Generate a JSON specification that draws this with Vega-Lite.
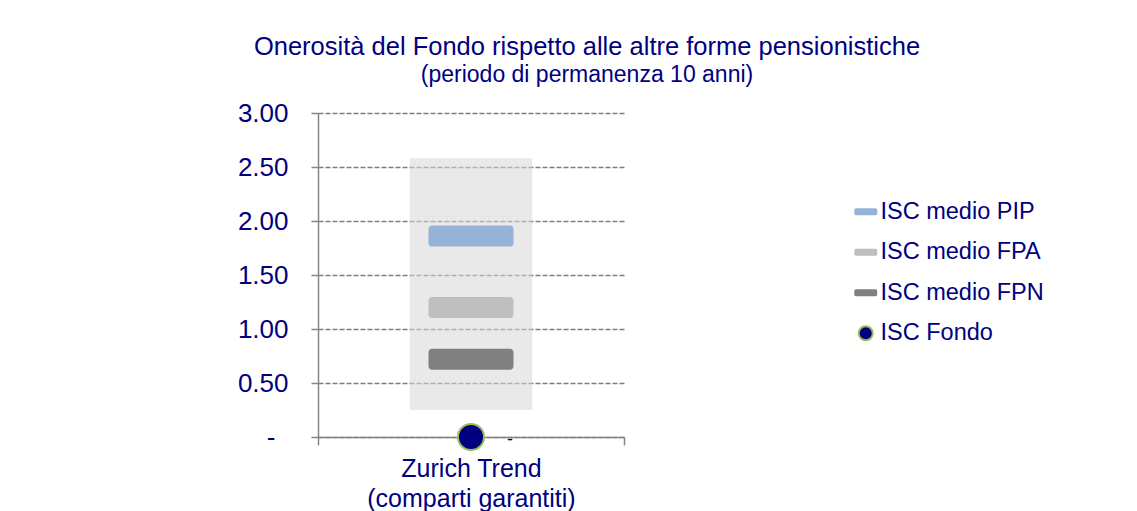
{
  "$schema": "https://vega.github.io/schema/vega-lite/v6.json",
  "width": 306,
  "height": 324,
  "autosize": {"type": "none"},
  "padding": {"left": 318, "top": 113, "right": 513, "bottom": 74},
  "background": "white",
  "title": {
    "text": "Onerosità del Fondo rispetto alle altre forme pensionistiche",
    "subtitle": "(periodo di permanenza 10 anni)",
    "anchor": "middle",
    "frame": "group",
    "dx": 116,
    "offset": 13,
    "font": "Liberation Sans",
    "fontSize": 25.5,
    "fontWeight": "normal",
    "color": "#000080",
    "subtitleFont": "Liberation Sans",
    "subtitleFontSize": 23,
    "subtitleColor": "#000080",
    "subtitlePadding": 4
  },
  "datasets": {
    "range": [
      {"fondo": "Zurich Trend|(comparti garantiti)", "min": 0.25, "max": 2.58}
    ],
    "isc": [
      {"fondo": "Zurich Trend|(comparti garantiti)", "serie": "ISC medio PIP", "valore": 1.86, "etichetta": ""},
      {"fondo": "Zurich Trend|(comparti garantiti)", "serie": "ISC medio FPA", "valore": 1.20, "etichetta": ""},
      {"fondo": "Zurich Trend|(comparti garantiti)", "serie": "ISC medio FPN", "valore": 0.72, "etichetta": ""},
      {"fondo": "Zurich Trend|(comparti garantiti)", "serie": "ISC Fondo", "valore": 0, "etichetta": "-"}
    ]
  },
  "layer": [
    {
      "data": {"name": "range"},
      "mark": {"type": "bar", "color": "#d7d7d7", "opacity": 0.55, "width": {"band": 0.4}},
      "encoding": {
        "x": {
          "field": "fondo",
          "type": "nominal",
          "title": null,
          "scale": {"paddingInner": 0, "paddingOuter": 0},
          "axis": {
            "labelExpr": "split(datum.label, '|')",
            "labelAngle": 0,
            "labelFontSize": 25,
            "labelLineHeight": 30,
            "labelLimit": 500,
            "labelColor": "#000080",
            "labelPadding": 11,
            "tickBand": "extent",
            "tickSize": 8,
            "tickColor": "#868686",
            "tickWidth": 1.5,
            "domainColor": "#868686",
            "domainWidth": 1.5,
            "grid": false
          }
        },
        "y": {
          "field": "min",
          "type": "quantitative",
          "title": null,
          "scale": {"domain": [0, 3], "nice": false},
          "axis": {
            "values": [0, 0.5, 1, 1.5, 2, 2.5, 3],
            "labelExpr": "datum.value == 0 ? '-' : format(datum.value, '.2f')",
            "labelFontSize": 26,
            "labelColor": "#000080",
            "labelPadding": {"condition": {"test": "datum.value == 0", "value": 36}, "value": 23},
            "tickSize": 7,
            "tickColor": "#868686",
            "tickWidth": 1.5,
            "domainColor": "#868686",
            "domainWidth": 1.5,
            "grid": true,
            "gridColor": "#7f7f7f",
            "gridDash": [5, 2],
            "gridWidth": 1.3
          }
        },
        "y2": {"field": "max"}
      }
    },
    {
      "data": {"name": "isc"},
      "transform": [{"filter": "datum.serie != 'ISC Fondo'"}],
      "mark": {"type": "point", "filled": true, "opacity": 1, "strokeWidth": 2, "strokeOpacity": 1, "size": 6889},
      "encoding": {
        "x": {"field": "fondo", "type": "nominal"},
        "y": {"field": "valore", "type": "quantitative"},
        "fill": {
          "field": "serie",
          "type": "nominal",
          "scale": {
            "domain": ["ISC medio PIP", "ISC medio FPA", "ISC medio FPN", "ISC Fondo"],
            "range": ["#95b3d7", "#bfbfbf", "#808080", "#000080"]
          },
          "legend": {
            "orient": "none",
            "legendX": 536,
            "legendY": 87,
            "title": null,
            "labelFont": "Liberation Sans",
            "labelFontSize": 23.5,
            "labelLimit": 300,
            "labelColor": "#000080",
            "labelOffset": 3,
            "symbolSize": 441,
            "symbolStrokeWidth": 2,
            "rowPadding": 15.5
          }
        },
        "stroke": {
          "field": "serie",
          "type": "nominal",
          "scale": {
            "domain": ["ISC medio PIP", "ISC medio FPA", "ISC medio FPN", "ISC Fondo"],
            "range": ["#95b3d7", "#bfbfbf", "#808080", "#9bbb59"]
          }
        },
        "shape": {
          "field": "serie",
          "type": "nominal",
          "scale": {
            "domain": ["ISC medio PIP", "ISC medio FPA", "ISC medio FPN", "ISC Fondo"],
            "range": [
              "M-0.93,-0.229H0.93A0.07,0.07,0,0,1,1,-0.159V0.159A0.07,0.07,0,0,1,0.93,0.229H-0.93A0.07,0.07,0,0,1,-1,0.159V-0.159A0.07,0.07,0,0,1,-0.93,-0.229Z",
              "M-0.93,-0.229H0.93A0.07,0.07,0,0,1,1,-0.159V0.159A0.07,0.07,0,0,1,0.93,0.229H-0.93A0.07,0.07,0,0,1,-1,0.159V-0.159A0.07,0.07,0,0,1,-0.93,-0.229Z",
              "M-0.93,-0.229H0.93A0.07,0.07,0,0,1,1,-0.159V0.159A0.07,0.07,0,0,1,0.93,0.229H-0.93A0.07,0.07,0,0,1,-1,0.159V-0.159A0.07,0.07,0,0,1,-0.93,-0.229Z",
              "M0.667,0A0.667,0.667,0,1,1,-0.667,0A0.667,0.667,0,1,1,0.667,0Z"
            ]
          }
        }
      }
    },
    {
      "data": {"name": "isc"},
      "transform": [{"filter": "datum.serie == 'ISC Fondo'"}],
      "mark": {"type": "point", "filled": true, "opacity": 1, "strokeWidth": 2, "strokeOpacity": 1, "size": 1521},
      "encoding": {
        "x": {"field": "fondo", "type": "nominal"},
        "y": {"field": "valore", "type": "quantitative"},
        "fill": {"field": "serie", "type": "nominal"},
        "stroke": {"field": "serie", "type": "nominal"},
        "shape": {"field": "serie", "type": "nominal"}
      }
    },
    {
      "data": {"name": "isc"},
      "transform": [{"filter": "datum.serie == 'ISC Fondo'"}],
      "mark": {"type": "text", "dx": 39, "dy": 3, "fontSize": 18, "color": "#000080", "font": "Liberation Sans"},
      "encoding": {
        "x": {"field": "fondo", "type": "nominal"},
        "y": {"field": "valore", "type": "quantitative"},
        "text": {"field": "etichetta"}
      }
    }
  ],
  "config": {
    "view": {"stroke": null},
    "font": "Liberation Sans"
  }
}
